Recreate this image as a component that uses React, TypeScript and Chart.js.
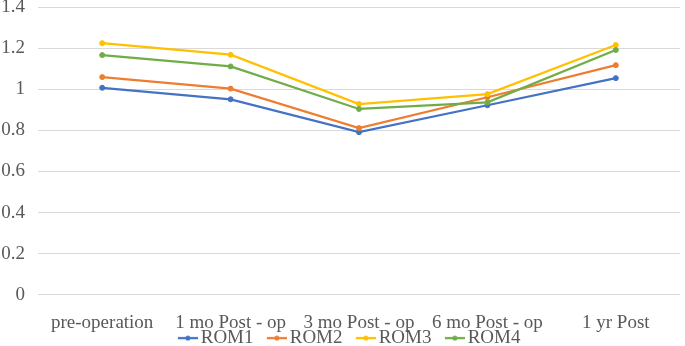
import React, { useEffect, useRef } from "react";
import { Chart, registerables } from "chart.js";

Chart.register(...registerables);

const categories = ["pre-operation", "1 mo Post - op", "3 mo Post - op", "6 mo Post - op", "1 yr Post"];
const rom1 = [1.007, 0.951, 0.791, 0.922, 1.054];
const rom2 = [1.059, 1.003, 0.811, 0.961, 1.117];
const rom3 = [1.224, 1.168, 0.928, 0.976, 1.215];
const rom4 = [1.166, 1.111, 0.904, 0.936, 1.191];
const seriesNames = ["ROM1", "ROM2", "ROM3", "ROM4"];
const seriesColors = ["#4472C4", "#ED7D31", "#FFC000", "#70AD47"];

const FONT = "'Liberation Serif', 'Times New Roman', serif";
const TEXT = "#595959";

function legendMarker(color: string): HTMLCanvasElement {
  const c = document.createElement("canvas");
  c.width = 40;
  c.height = 8;
  const ctx = c.getContext("2d")!;
  ctx.strokeStyle = color;
  ctx.lineWidth = 2.25;
  ctx.beginPath();
  ctx.moveTo(20, 4);
  ctx.lineTo(40, 4);
  ctx.stroke();
  ctx.fillStyle = color;
  ctx.beginPath();
  ctx.arc(30, 4, 2.5, 0, Math.PI * 2);
  ctx.fill();
  return c;
}

const legendShift = {
  id: "legendShift",
  afterLayout(chart: any) {
    const lg = chart.legend;
    if (!lg) return;
    const h = lg.bottom - lg.top;
    lg.top = 328.6;
    lg.bottom = lg.top + h;
  },
};

export default function App() {
  const ref = useRef<HTMLCanvasElement | null>(null);
  useEffect(() => {
    if (!ref.current) return;
    const all = [rom1, rom2, rom3, rom4];
    const markers = seriesColors.map(legendMarker);
    const chart = new Chart(ref.current, {
      type: "line",
      data: {
        labels: categories,
        datasets: all.map((d, i) => ({
          label: seriesNames[i],
          data: d,
          borderColor: seriesColors[i],
          backgroundColor: seriesColors[i],
          pointBackgroundColor: seriesColors[i],
          pointBorderColor: seriesColors[i],
          borderWidth: 2.25,
          pointRadius: 2.5,
          pointBorderWidth: 1,
          tension: 0,
          order: 4 - i,
        })),
      },
      plugins: [legendShift],
      options: {
        animation: false,
        responsive: false,
        layout: { padding: { top: 7, left: 1, right: 1, bottom: -17.8 } },
        plugins: {
          tooltip: { enabled: false },
          legend: {
            position: "bottom",
            labels: {
              usePointStyle: true,
              pointStyleWidth: 26.7,
              boxHeight: 8,
              padding: 0,
              color: TEXT,
              font: { family: FONT, size: 19 },
              generateLabels: (ch: any) =>
                ch.data.datasets.map((ds: any, i: number) => ({
                  text: ds.label,
                  fillStyle: seriesColors[i],
                  strokeStyle: seriesColors[i],
                  lineWidth: 0,
                  pointStyle: markers[i],
                  datasetIndex: i,
                  hidden: false,
                  fontColor: TEXT,
                })),
            },
          },
        },
        scales: {
          x: {
            offset: true,
            grid: { display: false, drawTicks: false, offset: true },
            border: { display: false },
            ticks: {
              color: TEXT,
              font: { family: FONT, size: 19 },
              padding: 17,
              maxRotation: 0,
              autoSkip: false,
            },
            afterFit: (scale: any) => {
              scale.paddingLeft = 0;
              scale.paddingRight = 0;
              scale.height = 40;
            },
          },
          y: {
            min: 0,
            max: 1.4,
            grid: { color: "#d9d9d9", lineWidth: 1, drawTicks: false },
            border: { display: false },
            ticks: {
              stepSize: 0.2,
              color: TEXT,
              font: { family: FONT, size: 19 },
              padding: 13,
              callback: (v: any) => String(Math.round(Number(v) * 10) / 10),
            },
            afterFit: (scale: any) => {
              scale.paddingTop = 0;
              scale.paddingBottom = 0;
              scale.width = 37;
            },
          },
        },
      },
    } as any);
    return () => chart.destroy();
  }, []);
  return (
    <div style={{ position: "fixed", left: 0, top: 0, width: 685, height: 346, background: "#fff" }}>
      <canvas ref={ref} width={685} height={346} style={{ width: 685, height: 346 }} />
    </div>
  );
}
